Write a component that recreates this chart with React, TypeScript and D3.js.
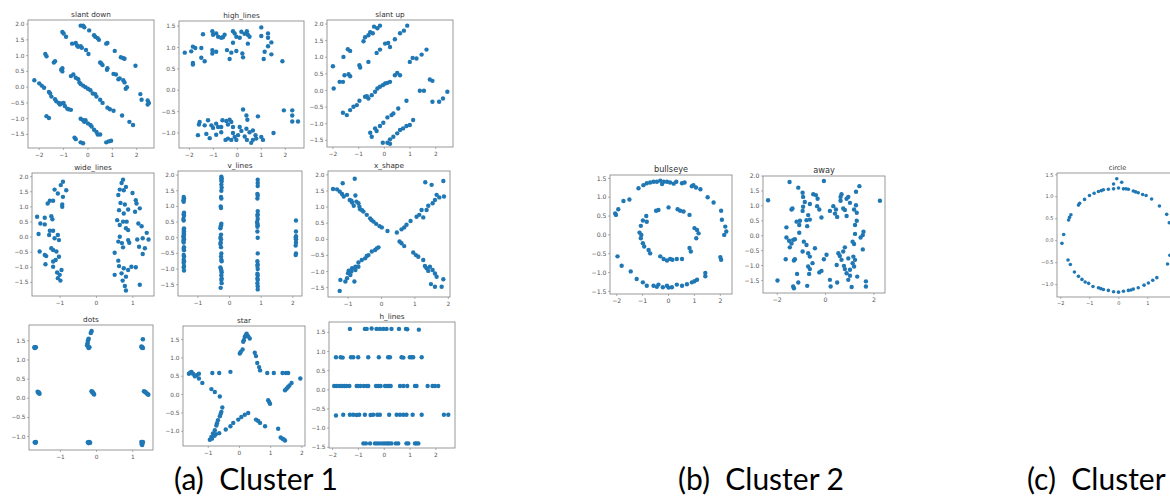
import * as d3 from 'd3';

// point sets, [x, y]
const slantDown = [
  [-0.3, 1.95], [-0.2, 1.95], [-0.15, 1.9], [0.05, 1.8], [0.25, 1.65], [0.3, 1.6], [0.4, 1.55], [0.45, 1.5], [0.75, 1.38], [0.8, 1.4],
  [-0.08, 1.18], [0.02, 1.05], [1.1, 1.15], [1.35, 0.95], [1.45, 0.92], [1.5, 0.9], [1.95, 0.68],
  [-1.05, 1.75], [-1.0, 1.7], [-0.9, 1.6], [-0.65, 1.38], [-0.5, 1.4], [-0.45, 1.32], [-0.4, 1.28], [-0.3, 1.3], [-0.25, 1.25],
  [0.5, 0.78], [0.55, 0.75], [0.6, 0.7], [0.78, 0.55], [0.8, 0.6], [1.05, 0.42], [1.15, 0.4], [1.25, 0.25], [1.3, 0.28], [1.45, 0.22],
  [1.5, 0.15], [1.55, -0.05], [1.6, 0.0], [2.15, -0.22], [2.2, -0.4], [2.45, -0.42], [2.5, -0.5], [2.45, -0.55],
  [-1.75, 1.05], [-1.7, 0.98], [-1.4, 0.78], [-1.35, 0.82], [-1.05, 0.6], [-1.1, 0.55], [-1.05, 0.5], [-0.7, 0.35], [-0.6, 0.4],
  [-0.5, 0.3], [-0.4, 0.25], [-0.35, 0.15], [-0.3, 0.1], [-0.2, 0.05], [-0.1, 0.0], [0.0, -0.05], [0.1, -0.1], [0.2, -0.2],
  [0.3, -0.22], [0.35, -0.3], [0.5, -0.4], [0.6, -0.5], [0.8, -0.65], [0.9, -0.7], [1.05, -0.75], [1.4, -0.9], [1.7, -1.1], [1.85, -1.2],
  [-2.2, 0.22], [-2.0, 0.12], [-1.9, 0.05], [-1.8, -0.02], [-1.6, -0.15], [-1.55, -0.2], [-1.5, -0.3], [-1.35, -0.38], [-1.3, -0.45],
  [-1.2, -0.5], [-1.15, -0.55], [-1.1, -0.52], [-1.0, -0.5], [-0.95, -0.6], [-0.85, -0.68], [-0.8, -0.7], [-0.7, -0.72],
  [-0.3, -1.0], [-0.2, -1.05], [-0.15, -1.1], [-0.1, -1.05], [0.0, -1.15], [0.1, -1.2], [0.15, -1.25], [0.25, -1.35], [0.35, -1.42],
  [0.4, -1.5], [0.5, -1.5], [0.75, -1.75], [0.85, -1.72], [0.95, -1.7],
  [-1.7, -0.92], [-1.6, -0.98], [-0.55, -1.6], [-0.5, -1.65], [-0.3, -1.75], [-0.2, -1.78],
];

const highLines = [
  [-2.19, 0.88], [-1.92, 0.91], [-1.85, 1.02], [-1.75, 0.99], [-1.5, 0.99], [-1.85, 0.64], [-1.85, 0.6], [-1.5, 0.76], [-1.36, 0.68],
  [-1.43, 1.31], [-1.04, 1.38], [-1.01, 1.3], [-0.88, 1.33], [-0.8, 1.25], [-0.67, 1.23], [-0.53, 1.3], [-0.6, 1.24], [-1.04, 0.94],
  [-1.04, 0.86], [-0.88, 0.9], [-0.43, 0.94], [-0.32, 0.73], [-0.25, 0.88], [-0.18, 1.38], [-0.11, 1.33], [-0.18, 1.11],
  [-0.04, 1.25], [-0.04, 0.92], [0.1, 1.23], [0.17, 1.37], [0.21, 0.86], [0.24, 0.77], [0.4, 1.38], [0.44, 1.3], [0.44, 1.09],
  [0.51, 1.25], [1.0, 1.47], [1.0, 1.27], [1.28, 1.33], [1.28, 1.23], [1.28, 1.03], [1.42, 1.12], [1.14, 0.9], [1.1, 0.73],
  [1.42, 0.84], [1.88, 0.68], [0.3, 1.32],
  [0.24, -0.45], [0.38, -0.59], [0.42, -0.69], [0.86, -0.61], [1.94, -0.47], [2.29, -0.47], [2.29, -0.59], [2.29, -0.73],
  [2.53, -0.73], [1.51, -1.0], [-1.57, -0.74], [-1.6, -0.8], [-1.36, -0.82], [-1.22, -0.7], [-1.08, -0.82], [-1.01, -0.88],
  [-0.88, -0.78], [-0.8, -0.86], [-0.62, -0.7], [-0.46, -0.72], [-0.32, -0.69], [-0.39, -0.8], [-0.25, -0.74], [-0.18, -0.86],
  [0.1, -0.86], [0.17, -0.95], [0.38, -0.9], [0.51, -0.98], [0.65, -0.94], [0.76, -1.05], [0.79, -1.13], [1.0, -1.09],
  [1.07, -1.16], [-1.64, -1.05], [-1.29, -1.02], [-1.15, -1.12], [-0.88, -1.04], [-0.67, -0.98], [-0.49, -1.16], [-0.39, -1.13],
  [-0.25, -1.16], [-0.11, -1.09], [-0.04, -1.16], [0.03, -1.05], [0.31, -1.08], [0.4, -1.16], [0.58, -1.23], [0.65, -1.16],
  [-0.18, -1.0], [-0.67, -0.86],
];

const slantUp = [
  [-0.81, 1.48], [-0.75, 1.6], [-0.62, 1.66], [-0.55, 1.75], [-0.4, 1.92], [-0.27, 1.87], [-0.17, 1.95], [-0.45, 1.72], [-0.62, 0.86],
  [-2.0, 0.73], [-1.59, 1.01], [-1.42, 1.24], [-1.33, 1.19], [-0.3, 1.13], [-0.17, 1.23], [0.03, 1.41], [0.15, 1.43], [0.41, 1.54],
  [0.61, 1.72], [0.76, 1.8], [0.89, 1.95], [0.22, 1.31],
  [-1.97, 0.06], [-1.74, 0.26], [-1.61, 0.26], [-1.55, 0.46], [-1.39, 0.49], [-1.33, 0.43], [-0.97, 0.76], [-0.94, 0.69],
  [-1.61, -0.67], [-1.46, -0.74], [-1.33, -0.59], [-1.2, -0.49], [-1.07, -0.44], [-0.97, -0.31], [-0.75, -0.19], [-0.62, -0.24],
  [-0.49, -0.14], [-0.36, -0.04], [-0.27, 0.06], [-0.17, 0.11], [-0.06, 0.16], [0.03, 0.21], [0.12, 0.23], [0.22, 0.26],
  [0.41, 0.46], [0.5, 0.53], [0.61, 0.46], [0.99, 0.86], [1.1, 0.98], [1.25, 0.96], [1.45, 1.08], [1.64, 1.23], [-0.68, -0.17],
  [-0.55, -1.27], [-0.49, -1.39], [-0.3, -1.22], [-0.17, -1.07], [-0.04, -0.97], [0.12, -0.81], [0.28, -0.74], [0.54, -0.54],
  [0.86, -0.31], [1.38, -0.01], [1.54, -0.01], [1.77, 0.33], [1.87, 0.29], [-0.36, -1.14], [0.35, -0.69],
  [-0.06, -1.57], [0.12, -1.57], [0.22, -1.47], [0.35, -1.39], [0.5, -1.29], [0.61, -1.19], [0.86, -1.07], [0.99, -1.04],
  [1.12, -0.89], [1.87, -0.34], [2.13, -0.34], [2.28, -0.24], [2.45, -0.04], [0.22, -1.6], [0.73, -1.14],
];

const wideLines = [
  [-0.92, 1.83], [-0.98, 1.72], [-0.83, 1.55], [-1.15, 1.57], [-1.06, 1.44], [-0.92, 1.33], [-1.28, 1.2], [-1.34, 1.11],
  [-1.19, 1.2], [-0.94, 1.08], [-0.94, 1.0], [-1.63, 0.67], [-1.42, 0.64], [-1.24, 0.69], [-1.21, 0.59], [-1.54, 0.45],
  [-1.42, 0.42], [-1.28, 0.21], [-1.19, 0.21], [-1.06, 0.07], [-1.59, 0.1], [-1.3, 0.07], [-1.15, -0.04], [-1.03, -0.1],
  [-1.24, -0.37], [-1.19, -0.43], [-1.1, -0.48], [-1.56, -0.48], [-1.42, -0.59], [-1.38, -0.63], [-1.03, -0.65], [-1.12, -0.76],
  [-1.19, -0.81], [-1.4, -0.9], [-1.19, -0.98], [-0.96, -1.09], [-1.08, -1.17], [-1.01, -1.25], [-1.06, -1.36], [-0.99, -1.44],
  [0.73, 1.9], [0.69, 1.79], [0.81, 1.66], [0.64, 1.57], [0.75, 1.55], [0.99, 1.46], [0.6, 1.39], [0.66, 1.13], [0.78, 1.08],
  [1.08, 1.22], [1.1, 1.11], [1.19, 0.95], [1.06, 0.84], [0.62, 0.89], [0.75, 0.78], [0.87, 0.91], [0.57, 0.56], [0.73, 0.51],
  [0.83, 0.51], [0.64, 0.4], [1.15, 0.45], [1.24, 0.36], [0.81, 0.29], [0.87, 0.23], [1.38, 0.14], [1.43, -0.08], [1.12, -0.08],
  [1.27, -0.04], [0.64, 0.01], [0.6, -0.15], [0.87, -0.1], [0.9, -0.19], [0.73, -0.34], [0.5, -0.52], [1.17, -0.32],
  [1.33, -0.37], [1.27, -0.56], [0.6, -0.78], [0.62, -0.96], [0.75, -1.03], [0.87, -1.09], [1.08, -1.0], [0.69, -1.2],
  [0.5, -1.25], [0.81, -1.31], [0.72, -1.44], [0.78, -1.62], [1.19, -1.58], [0.81, -1.77], [0.96, -0.98], [0.7, -0.2],
];

const vLines = [
  [-1.45, 1.3], [-1.44, 1.25], [-1.46, 1.2], [-1.45, 1.15], [-1.44, 0.8], [-1.45, 0.75], [-1.44, 0.7], [-1.46, 0.6], [-1.45, 0.55],
  [-1.44, 0.3], [-1.45, 0.25], [-1.44, 0.2], [-1.45, 0.15], [-1.44, 0.1], [-1.46, 0.05], [-1.45, 0.0], [-1.44, -0.05],
  [-1.46, -0.1], [-1.45, -0.15], [-1.44, -0.3], [-1.45, -0.35], [-1.44, -0.4], [-1.45, -0.55], [-1.44, -0.6], [-1.45, -0.7],
  [-1.44, -0.75], [-1.45, -0.8], [-1.44, -0.9], [-1.45, -0.95], [-1.44, -1.05],
  [-0.26, 1.95], [-0.25, 1.9], [-0.26, 1.85], [-0.25, 1.8], [-0.26, 1.7], [-0.25, 1.6], [-0.26, 1.5], [-0.27, 1.3], [-0.26, 1.25],
  [-0.28, 1.0], [-0.27, 0.95], [-0.26, 0.45], [-0.27, 0.4], [-0.28, 0.35], [-0.29, 0.3], [-0.27, 0.1], [-0.29, 0.0],
  [-0.27, -0.05], [-0.28, -0.15], [-0.29, -0.2], [-0.27, -0.3], [-0.26, -0.5], [-0.27, -0.6], [-0.26, -0.7], [-0.25, -0.75],
  [-0.29, -0.95], [-0.27, -1.0], [-0.26, -1.05], [-0.25, -1.1], [-0.26, -1.2], [-0.25, -1.3], [-0.26, -1.35], [-0.25, -1.45],
  [-0.28, -1.6],
  [0.89, 1.85], [0.89, 1.75], [0.89, 1.65], [0.88, 1.4], [0.89, 1.35], [0.88, 1.25], [0.89, 0.85], [0.89, 0.75], [0.88, 0.7],
  [0.89, 0.6], [0.87, 0.5], [0.88, 0.45], [0.89, 0.4], [0.88, 0.35], [0.88, 0.2], [0.89, 0.0], [0.89, -0.5], [0.88, -0.75],
  [0.89, -0.85], [0.88, -0.9], [0.89, -1.0], [0.88, -1.15], [0.89, -1.2], [0.88, -1.3], [0.89, -1.35], [0.88, -1.45],
  [0.89, -1.55], [0.89, -1.65],
  [2.1, 0.55], [2.1, 0.2], [2.1, 0.05], [2.09, 0.0], [2.1, -0.05], [2.1, -0.15], [2.09, -0.25], [2.1, -0.5], [2.09, -0.55],
];

const xShape = [
  [-1.45, 1.56], [-1.33, 1.55], [-1.25, 1.48], [-1.18, 1.41], [-1.16, 1.74], [-1.13, 1.33], [-1.03, 1.38], [-0.95, 1.22],
  [-0.88, 1.14], [-0.78, 1.36], [-0.75, 1.17], [-0.69, 1.12], [-0.8, 1.88], [-0.64, 0.93], [-0.54, 0.86], [-0.44, 0.76],
  [-0.34, 0.65], [-0.24, 0.55], [-0.16, 0.48], [-0.06, 0.41], [0.01, 0.37], [0.18, 0.26], [-0.66, 1.01], [-0.83, 1.04],
  [-0.9, 1.2], [-0.58, 0.9], [-0.3, 0.6],
  [0.46, 0.21], [0.6, 0.31], [0.68, 0.37], [0.75, 0.45], [0.87, 0.57], [1.05, 0.7], [1.13, 0.76], [1.2, 0.91], [1.35, 0.91],
  [1.4, 1.04], [1.53, 1.12], [1.6, 1.22], [1.65, 1.38], [1.73, 1.3], [1.31, 1.77], [1.5, 1.69], [1.87, 1.33], [1.85, 1.81],
  [1.25, 0.68],
  [-0.09, -0.25], [-0.19, -0.33], [-0.29, -0.38], [-0.39, -0.49], [-0.49, -0.59], [-0.59, -0.64], [-0.69, -0.72],
  [-0.78, -0.85], [-0.88, -0.9], [-0.98, -0.97], [-0.93, -1.11], [-1.03, -1.21], [-1.08, -1.31], [-1.23, -1.26], [-1.25, -1.6],
  [-0.81, -1.31], [-0.78, -0.95], [-0.69, -0.85], [-1.0, -1.05], [-0.9, -1.0], [-0.14, -0.28], [-0.44, -0.52],
  [0.54, -0.07], [0.6, -0.12], [0.68, -0.21], [0.95, -0.41], [1.03, -0.49], [1.1, -0.54], [1.25, -0.64], [1.3, -0.83],
  [1.35, -0.9], [1.45, -0.85], [1.53, -0.95], [1.6, -1.06], [1.65, -1.16], [1.48, -1.39], [1.6, -1.47], [1.8, -1.47],
  [1.85, -1.24], [1.4, -0.98],
];

const dots = [
  [-1.72, 1.33], [-1.7, 1.32], [-1.68, 1.33], [-1.71, 1.31],
  [-0.14, 1.75], [-0.16, 1.7], [-0.22, 1.55], [-0.24, 1.5], [-0.25, 1.43], [-0.26, 1.38], [-0.24, 1.35], [-0.2, 1.33], [-0.22, 1.31],
  [1.28, 1.54], [1.24, 1.35], [1.26, 1.33], [1.28, 1.31], [1.25, 1.32],
  [-1.63, 0.17], [-1.6, 0.15], [-1.58, 0.12], [-1.61, 0.14],
  [-0.14, 0.18], [-0.11, 0.15], [-0.09, 0.13], [-0.07, 0.1], [-0.12, 0.17],
  [1.31, 0.18], [1.35, 0.16], [1.38, 0.13], [1.41, 0.11], [1.43, 0.09],
  [-1.71, -1.15], [-1.68, -1.14], [-1.69, -1.16], [-0.24, -1.15], [-0.2, -1.14], [-0.18, -1.16], [-0.22, -1.17],
  [1.24, -1.14], [1.27, -1.16], [1.25, -1.2], [1.28, -1.14], [1.26, -1.22],
];

const star = [
  [0.23, 1.66], [0.17, 1.57], [0.14, 1.48], [0.28, 1.59], [0.33, 1.53], [0.12, 1.44], [0.04, 1.16], [0.01, 1.12], [0.1, 1.23],
  [0.2, 1.62], [0.49, 1.14], [0.53, 1.05], [0.57, 0.86], [0.63, 0.75], [0.66, 0.66],
  [-0.87, 0.59], [-0.65, 0.59], [-0.29, 0.62], [0.89, 0.59], [1.1, 0.59], [1.38, 0.59], [1.49, 0.59], [1.56, 0.59],
  [-1.62, 0.57], [-1.54, 0.62], [-1.49, 0.57], [-1.38, 0.53], [-1.3, 0.57], [-1.3, 0.44], [-1.19, 0.32], [-1.43, 0.5],
  [-1.58, 0.6], [1.95, 0.44], [1.67, 0.32], [1.6, 0.25], [1.51, 0.16], [1.46, 0.12], [1.55, 0.2],
  [-0.9, 0.15], [-0.79, 0.07], [-0.63, -0.05], [0.92, -0.15], [0.98, -0.25], [0.95, -0.2],
  [-0.55, -0.35], [-0.58, -0.47], [-0.63, -0.59], [-0.69, -0.7], [-0.74, -0.84], [-0.79, -0.97], [-0.85, -1.06],
  [-0.9, -1.15], [-0.95, -1.23], [-0.76, -1.08], [-0.65, -1.05], [-0.6, -0.52], [-0.72, -0.78], [-0.88, -1.2], [-0.8, -1.12],
  [-0.44, -0.95], [-0.29, -0.86], [-0.2, -0.77], [-0.04, -0.68], [0.06, -0.61], [0.17, -0.55], [0.28, -0.5],
  [0.53, -0.68], [0.66, -0.77], [0.82, -0.86], [0.6, -0.72],
  [1.24, -0.93], [1.32, -1.17], [1.38, -1.2], [1.46, -1.25], [1.42, -1.22],
];

const hLines = [
  [-1.33, 1.59], [-0.75, 1.59], [-0.68, 1.59], [-0.49, 1.6], [-0.3, 1.59], [-0.17, 1.59], [-0.04, 1.59], [0.09, 1.59],
  [0.28, 1.59], [0.57, 1.59], [0.84, 1.59], [0.89, 1.58], [1.34, 1.57],
  [-1.87, 0.85], [-1.69, 0.85], [-1.61, 0.84], [-1.29, 0.85], [-1.2, 0.85], [-1.01, 0.85], [-0.62, 0.85], [-0.21, 0.85],
  [0.15, 0.85], [0.22, 0.85], [0.67, 0.85], [0.74, 0.84], [0.99, 0.85], [1.06, 0.85], [1.12, 0.85], [1.45, 0.85],
  [-1.94, 0.1], [-1.85, 0.1], [-1.74, 0.1], [-1.65, 0.1], [-1.55, 0.1], [-1.46, 0.1], [-1.35, 0.1], [-1.07, 0.1], [-1.01, 0.1],
  [-0.92, 0.1], [-0.79, 0.1], [-0.68, 0.1], [-0.62, 0.1], [-0.32, 0.1], [-0.23, 0.1], [-0.14, 0.1], [0.03, 0.1], [0.12, 0.1],
  [0.19, 0.1], [0.25, 0.1], [0.61, 0.1], [0.74, 0.1], [0.89, 0.1], [1.19, 0.1], [1.25, 0.1], [1.68, 0.1], [1.87, 0.1],
  [1.96, 0.1], [2.09, 0.1],
  [-1.87, -0.67], [-1.59, -0.65], [-1.33, -0.65], [-1.2, -0.65], [-1.07, -0.66], [-0.97, -0.65], [-0.75, -0.65], [-0.53, -0.66],
  [-0.43, -0.65], [-0.27, -0.65], [-0.17, -0.65], [0.19, -0.65], [0.48, -0.65], [0.61, -0.65], [0.74, -0.65], [0.86, -0.65],
  [1.1, -0.65], [1.45, -0.65], [2.31, -0.65], [2.48, -0.65],
  [-0.81, -1.4], [-0.71, -1.4], [-0.55, -1.4], [-0.36, -1.4], [-0.27, -1.4], [-0.17, -1.4], [-0.06, -1.4], [0.03, -1.4],
  [0.12, -1.4], [0.19, -1.4], [0.28, -1.4], [0.45, -1.4], [0.54, -1.4], [0.86, -1.4], [0.93, -1.4], [1.19, -1.4], [1.25, -1.4],
  [1.32, -1.4],
];

const bullseye = [
  [-1.16, 1.24], [-0.97, 1.32], [-0.84, 1.37], [-0.71, 1.39], [-0.58, 1.41], [-0.45, 1.41], [-0.32, 1.44], [-0.19, 1.41],
  [-0.06, 1.41], [0.06, 1.39], [0.3, 1.41], [0.52, 1.37], [0.62, 1.39], [0.96, 1.32], [1.06, 1.26], [1.23, 1.21], [1.51, 1.0],
  [1.74, 0.86], [2.03, 0.64], [2.06, 0.4], [2.19, 0.22], [2.23, 0.09], [2.15, 0.0], [2.0, -0.59], [2.03, -0.66], [1.42, -1.01],
  [1.42, -1.1], [1.1, -1.19], [0.9, -1.26], [0.71, -1.31], [0.52, -1.35], [0.32, -1.32], [0.13, -1.39], [-0.06, -1.35],
  [-0.22, -1.39], [-0.39, -1.32], [-0.58, -1.35], [-0.84, -1.35], [-0.99, -1.26], [-1.23, -1.17], [-1.46, -0.97],
  [-1.81, -0.82], [-1.97, -0.57], [-2.03, 0.53], [-1.94, 0.68], [-1.74, 0.9], [-1.51, 0.94], [-2.06, 0.57], [0.9, 1.29],
  [-0.25, 1.35], [0.2, 1.36], [-0.45, -1.38], [0.0, -1.4], [1.0, -1.23],
  [-0.86, 0.5], [-0.99, 0.38], [-1.07, 0.24], [-1.12, 0.06], [-1.07, -0.09], [-0.99, -0.22], [-0.94, -0.31], [-0.77, -0.4],
  [-0.71, -0.49], [-0.32, -0.57], [-0.19, -0.64], [-0.06, -0.68], [0.06, -0.64], [0.32, -0.64], [0.52, -0.64], [0.81, -0.35],
  [0.86, -0.44], [1.07, -0.09], [1.16, 0.04], [1.0, 0.18], [1.1, 0.13], [0.81, 0.53], [0.58, 0.62], [0.45, 0.64], [0.35, 0.68],
  [0.0, 0.73], [-0.39, 0.66], [-0.48, 0.64], [-0.84, 0.35], [-1.05, 0.0], [0.15, -0.66],
];

const away = [
  [-2.38, 1.19], [-1.49, 1.8], [-0.07, 1.83], [2.25, 1.17], [-1.99, -1.5], [-1.13, 1.61], [-0.95, 1.44], [-0.93, 1.3],
  [-0.86, 1.13], [-0.93, 0.97], [-0.95, 0.83], [-1.41, 0.88], [-1.37, 0.91], [-0.65, 1.06], [-0.72, 0.69], [-0.51, 1.39],
  [-0.4, 1.36], [-0.33, 1.24], [-0.35, 0.99], [-0.26, 0.88], [-0.17, 0.61], [0.18, 0.83], [0.32, 0.99], [0.43, 0.88],
  [0.39, 0.74], [0.48, 0.63], [0.62, 1.3], [0.66, 1.39], [0.62, 1.17], [0.87, 1.24], [0.94, 1.3], [0.73, 0.91], [0.8, 0.86],
  [1.01, 1.1], [1.26, 1.02], [1.4, 1.66], [1.26, 1.47], [1.18, 0.88], [1.29, 0.77], [1.29, 0.5], [1.22, 0.36], [0.87, 0.66],
  [-1.2, 0.47], [-1.06, 0.5], [-0.79, 0.52], [-0.65, 0.54], [-1.09, 0.36], [-0.76, 0.32], [-1.62, 0.28], [-1.62, -0.06],
  [-1.51, -0.17], [-1.34, -0.14], [-1.41, -0.26], [-1.48, -0.39], [-1.27, -0.12], [-1.09, 0.1], [-0.9, -0.2], [-0.79, -0.31],
  [-0.95, -0.53], [-0.72, -0.59], [-0.44, -0.42], [-0.65, -0.7], [-1.65, -0.79], [-1.31, -0.83], [-1.27, -0.79],
  [-0.72, -1.03], [-0.65, -1.12], [-0.54, -0.92], [-0.68, -1.28], [-1.18, -1.28], [-1.13, -1.57], [-1.34, -1.7],
  [-1.31, -1.76], [-0.76, -1.68], [-0.26, -1.23], [-0.17, -1.18], [-0.07, -0.79], [0.04, -0.64], [0.18, -1.48],
  [0.21, -1.7], [0.48, -1.57], [0.46, -0.98], [0.53, -0.59], [0.59, -0.68], [0.66, -0.81], [0.73, -0.53], [0.8, -0.39],
  [0.76, -1.01], [0.8, -1.12], [0.87, -1.26], [1.01, -1.34], [0.94, -1.48], [1.08, -1.72], [1.12, -0.92], [1.18, -1.03],
  [1.22, -0.81], [1.15, -0.7], [1.31, -1.37], [1.54, 0.02], [1.57, 0.13], [1.45, -0.06], [1.22, 0.06], [1.18, -0.28],
  [1.12, -0.2], [1.54, -0.46], [1.67, -1.53], [1.67, -1.7], [1.01, -1.14], [0.94, -0.76],
];

const circle = [
  [-0.07, 1.41], [-0.18, 1.29], [0.1, 1.33], [-1.01, 1.03], [-0.85, 1.08], [-0.7, 1.12], [-0.53, 1.16], [-0.36, 1.17],
  [-0.18, 1.18], [-0.01, 1.2], [0.16, 1.18], [0.33, 1.17], [0.5, 1.13], [0.67, 1.09], [0.82, 1.05], [0.94, 1.03], [1.13, 0.95],
  [1.4, 0.79], [1.65, 0.6], [1.74, 0.41], [-1.18, 0.94], [-1.35, 0.85], [-1.39, 0.81], [-1.65, 0.59], [-1.73, 0.47],
  [-1.7, 0.53], [-1.9, 0.14], [-1.96, -0.06], [-1.75, -0.44], [-1.67, -0.54], [-1.53, -0.71], [-1.39, -0.81],
  [-1.27, -0.88], [-1.16, -0.94], [-1.04, -0.97], [-0.89, -1.04], [-0.7, -1.07], [-0.53, -1.11], [-0.36, -1.13],
  [-0.18, -1.16], [-0.01, -1.17], [0.16, -1.15], [0.33, -1.13], [0.5, -1.1], [0.67, -1.07], [0.87, -1.01], [1.02, -0.96],
  [1.17, -0.9], [1.31, -0.84], [1.68, -0.53], [1.76, -0.33], [-0.6, 1.14], [0.25, 1.18], [0.58, 1.11], [-0.62, -1.09],
  [0.42, -1.12], [1.85, 0.1], [1.88, -0.1],
];

const ticksX5 = [-2, -1, 0, 1, 2];
const ticksX3 = [-1, 0, 1];
const ticksX4 = [-1, 0, 1, 2];
const ticksXAway = [-2, 0, 2];
const ticksXCircle = [-2, -1, 0, 1];
const ticksY8 = [-1.5, -1, -0.5, 0, 0.5, 1, 1.5, 2];
const ticksY6 = [-1, -0.5, 0, 0.5, 1, 1.5];
const ticksY7 = [-1.5, -1, -0.5, 0, 0.5, 1, 1.5];

const captions = ['(a)  Cluster 1', '(b)  Cluster 2', '(c)  Cluster 3'];

// layout: frame box [left, top, right, bottom], axis domains, font sizes
const panels = [
  { title: 'slant down', pts: slantDown, box: [28, 20, 154, 148], xd: [-2.46, 2.71], yd: [-1.93, 2.13], xt: ticksX5, yt: ticksY8, fs: 5.8, ts: 7.3, r: 2.2 },
  { title: 'high_lines', pts: highLines, box: [179, 21, 304, 148], xd: [-2.43, 2.78], yd: [-1.35, 1.62], xt: ticksX5, yt: ticksY6, fs: 5.8, ts: 7.3, r: 2.2 },
  { title: 'slant up', pts: slantUp, box: [327, 20, 453, 147], xd: [-2.23, 2.67], yd: [-1.7, 2.12], xt: ticksX5, yt: ticksY8, fs: 5.8, ts: 7.3, r: 2.2 },
  { title: 'wide_lines', pts: wideLines, box: [32, 173, 154, 296], xd: [-1.77, 1.58], yd: [-1.95, 2.12], xt: ticksX3, yt: ticksY8, fs: 5.8, ts: 7.3, r: 2.2 },
  { title: 'v_lines', pts: vLines, box: [178, 171, 302, 296], xd: [-1.63, 2.29], yd: [-1.86, 2.13], xt: ticksX4, yt: ticksY8, fs: 5.8, ts: 7.3, r: 2.2 },
  { title: 'x_shape', pts: xShape, box: [328, 171, 450, 297], xd: [-1.6, 2.05], yd: [-1.79, 2.12], xt: ticksX4, yt: ticksY8, fs: 5.8, ts: 7.3, r: 2.2 },
  { title: 'dots', pts: dots, box: [29, 325, 153, 450], xd: [-1.87, 1.56], yd: [-1.35, 1.91], xt: ticksX3, yt: ticksY6, fs: 5.8, ts: 7.3, r: 2.3 },
  { title: 'star', pts: star, box: [183, 326, 305, 446], xd: [-1.81, 2.1], yd: [-1.4, 1.87], xt: ticksX4, yt: ticksY6, fs: 5.8, ts: 7.3, r: 2.2 },
  { title: 'h_lines', pts: hLines, box: [329, 322, 455, 448], xd: [-2.14, 2.74], yd: [-1.52, 1.77], xt: ticksX5, yt: ticksY7, fs: 5.8, ts: 7.3, r: 2.2 },
  { title: 'bullseye', pts: bullseye, box: [610, 175, 732, 294], xd: [-2.26, 2.45], yd: [-1.57, 1.59], xt: ticksX5, yt: ticksY7, fs: 6.2, ts: 8.2, r: 2.2 },
  { title: 'away', pts: away, box: [763, 176, 885, 293], xd: [-2.59, 2.46], yd: [-1.92, 2.0], xt: ticksXAway, yt: ticksY8, fs: 6.2, ts: 8.2, r: 2.2 },
  { title: 'circle', pts: circle, box: [1057, 173, 1178, 297], xd: [-2.13, 2.04], yd: [-1.28, 1.54], xt: ticksXCircle, yt: ticksY6, fs: 5, ts: 6.5, r: 1.8 },
];

// caption anchors (a, b centred; c starts near the right edge and runs off it)
const captionX = [256, 761, 1027];

const fmtX = d3.format('d');
const fmtY = d3.format('.1f');

function Panel({ p }) {
  const [l, t, r, b] = p.box;
  const x = d3.scaleLinear().domain(p.xd).range([l, r]);
  const y = d3.scaleLinear().domain(p.yd).range([b, t]);
  const font = 'DejaVu Sans, sans-serif';
  return (
    <g>
      <rect x={l} y={t} width={r - l} height={b - t} fill="white" stroke="#7f7f7f" strokeWidth={0.8} />
      {p.pts.map((d, i) => (
        <circle key={i} cx={x(d[0])} cy={y(d[1])} r={p.r} fill="#1f77b4" />
      ))}
      {p.xt.map((v) => (
        <g key={'x' + v}>
          <line x1={x(v)} x2={x(v)} y1={b} y2={b + 2} stroke="#7f7f7f" strokeWidth={0.6} />
          <text x={x(v)} y={b + 3 + p.fs} textAnchor="middle" fontSize={p.fs} fill="#555" fontFamily={font}>
            {fmtX(v)}
          </text>
        </g>
      ))}
      {p.yt.map((v) => (
        <g key={'y' + v}>
          <line x1={l - 2} x2={l} y1={y(v)} y2={y(v)} stroke="#7f7f7f" strokeWidth={0.6} />
          <text x={l - 3.5} y={y(v)} dy="0.35em" textAnchor="end" fontSize={p.fs} fill="#555" fontFamily={font}>
            {fmtY(v)}
          </text>
        </g>
      ))}
      <text x={(l + r) / 2} y={t - 3.5} textAnchor="middle" fontSize={p.ts} fill="#333" fontFamily={font}>
        {p.title}
      </text>
    </g>
  );
}

export default function App() {
  return (
    <svg width={1170} height={498} style={{ position: 'absolute', left: 0, top: 0, background: 'white' }}>
      {panels.map((p) => (
        <Panel key={p.title} p={p} />
      ))}
      {captions.map((c, i) => (
        <text key={c} x={captionX[i]} y={490} textAnchor={i === 2 ? 'start' : 'middle'}
          fontSize={30} fontFamily="Lato, sans-serif" fill="#000" style={{ whiteSpace: 'pre' }}>
          {c}
        </text>
      ))}
    </svg>
  );
}
